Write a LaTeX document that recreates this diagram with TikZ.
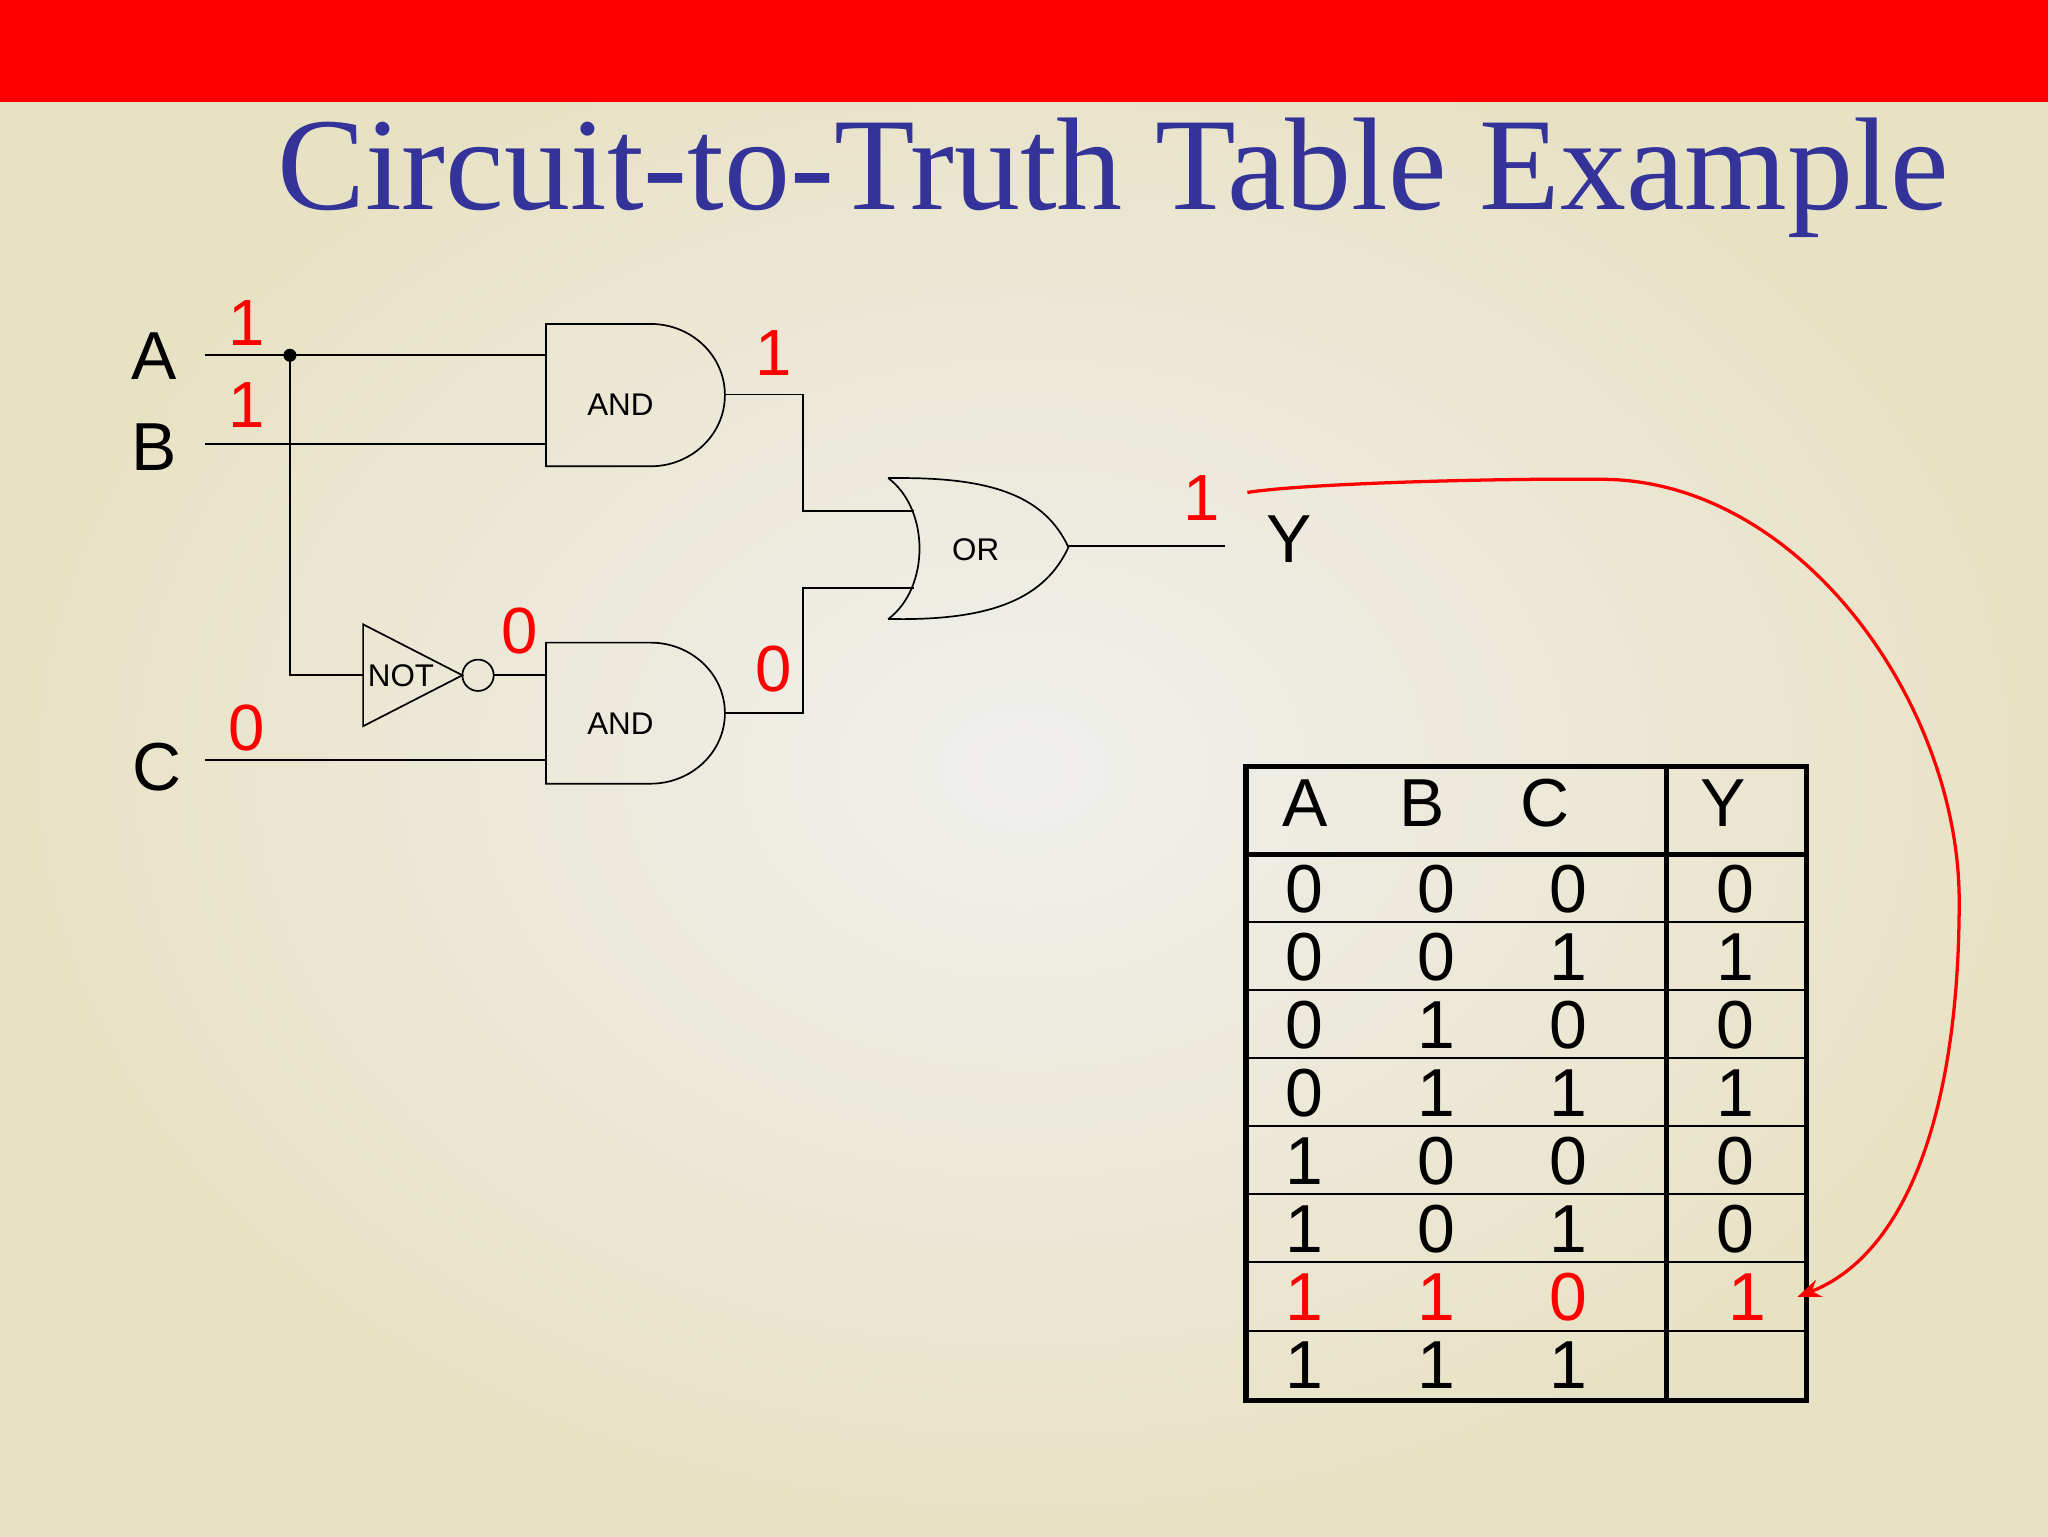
\documentclass[tikz,border=0pt]{standalone}
\usepackage{fontspec}
\setmainfont{Liberation Sans}
\newfontfamily\titlefont{Liberation Serif}
\usetikzlibrary{arrows.meta}
\definecolor{bgbeige}{RGB}{232,226,196}
\definecolor{bglight}{RGB}{240,240,238}
\definecolor{titleblue}{RGB}{51,51,153}
\tikzset{
  wire/.style={line width=1.3pt,black},
  gate/.style={line width=1.3pt,black},
  big/.style={font=\fontsize{52}{56}\selectfont,inner sep=0pt},
  redval/.style={font=\fontsize{50}{54}\selectfont,text=red,inner sep=0pt},
  glabel/.style={font=\fontsize{24}{28}\selectfont,inner sep=0pt},
  cell/.style={font=\fontsize{52}{56}\selectfont,inner sep=0pt},
}
\begin{document}
\begin{tikzpicture}[x=1pt,y=-1pt]
\useasboundingbox (0,0) rectangle (1568,1176);
\shade[inner color=bglight,outer color=bgbeige] (0,0) rectangle (1568,1176);
\fill[red] (0,0) rectangle (1568,78);
\node[font=\titlefont\fontsize{101}{105}\selectfont,text=titleblue,inner sep=0pt] (title) at (852,136) {Circuit-to-Truth Table Example};
% labels
\node[big] (lA) at (118,273) {A};
\node[big] (lB) at (118,342) {B};
\node[big] (lC) at (120,587) {C};
\node[big] (lY) at (987,413) {Y};
% wires
\coordinate (a0) at (157,272); \coordinate (a1) at (418,272);
\coordinate (b0) at (157,340); \coordinate (b1) at (418,340);
\coordinate (c0) at (157,582); \coordinate (c1) at (418,582);
\coordinate (dot) at (222,272);
\draw[wire] (a0) -- (a1);
\draw[wire] (b0) -- (b1);
\draw[wire] (c0) -- (c1);
\fill (dot) circle (5);
\coordinate (nin) at (278,517);
\draw[wire] (dot) |- (nin);
% NOT
\draw[gate] (278,478) -- (354,517) -- (278,556) -- cycle;
\node[glabel] (notl) at (307,517) {NOT};
\draw[gate] (366,517) circle (12);
\draw[wire] (378,517) -- (418,517);
% AND gates
\draw[gate] (498,248) -- (418,248) -- (418,357) -- (498,357) arc (90:-90:57 and 54.5);
\node[glabel] (and1) at (475,310) {AND};
\draw[gate] (498,492) -- (418,492) -- (418,600) -- (498,600) arc (90:-90:57 and 54);
\node[glabel] (and2) at (475,554) {AND};
% OR gate
\draw[gate] (680,366) .. controls (712,390) and (712,450) .. (680,474);
\draw[gate] (690,366) .. controls (760,366) and (800,380) .. (818,419) .. controls (800,458) and (760,474) .. (690,474);
\draw[gate] (680,366) -- (690,366); \draw[gate] (680,474) -- (690,474);
\node[glabel] (orl) at (747,421) {OR};
\coordinate (o1) at (555,302); \coordinate (o2) at (555,546);
\draw[wire] (o1) -- (615,302) -- (615,391) -- (700,391);
\draw[wire] (o2) -- (615,546) -- (615,450) -- (700,450);
\coordinate (orout) at (818,418); \coordinate (yend) at (938,418);
\draw[wire] (orout) -- (yend);
% red values
\node[redval] (v1) at (189,247) {1};
\node[redval] (v2) at (189,310) {1};
\node[redval] (v3) at (189,557) {0};
\node[redval] (v4) at (592,270) {1};
\node[redval] (v5) at (398,483) {0};
\node[redval] (v6) at (592,512) {0};
\node[redval] (v7) at (920,381) {1};
% table
\draw[line width=4pt] (954,587) rectangle (1383,1072);
\draw[line width=4pt] (1276,587) -- (1276,1072);
\draw[line width=4pt] (954,654) -- (1383,654);
\foreach \yy in {706,758,810,862,914,966,1019} \draw[line width=1.3pt] (954,\yy) -- (1383,\yy);
\node[cell] (hA) at (999,615) {A};
\node[cell] (hB) at (1089,615) {B};
\node[cell] (hC) at (1183,615) {C};
\node[cell] (hY) at (1319,615) {Y};
\foreach \a/\b/\c/\y/\r in {0/0/0/0/681,0/0/1/1/733,0/1/0/0/785,0/1/1/1/837,1/0/0/0/889,1/0/1/0/941} {
  \node[cell] at (999,\r) {\a};
  \node[cell] at (1100,\r) {\b};
  \node[cell] at (1201,\r) {\c};
  \node[cell] at (1329,\r) {\y};
}
\node[cell,text=red] (r7a) at (999,993) {1};
\node[cell,text=red] (r7b) at (1100,993) {1};
\node[cell,text=red] (r7c) at (1201,993) {0};
\node[cell,text=red] (r7y) at (1338,993) {1};
\node[cell] (r8a) at (999,1045) {1};
\node[cell] (r8b) at (1100,1045) {1};
\node[cell] (r8c) at (1201,1045) {1};
% arrow
\coordinate (ar0) at (955,377);
\coordinate (ar1) at (1376,993);
\draw[red,line width=2.5pt,-{Stealth[length=18pt,width=14pt]}] (ar0) .. controls (1000,370) and (1150,366) .. (1230,367)
  .. controls (1380,370) and (1500,540) .. (1500,690)
  .. controls (1500,850) and (1460,960) .. (ar1);
\end{tikzpicture}
\end{document}
